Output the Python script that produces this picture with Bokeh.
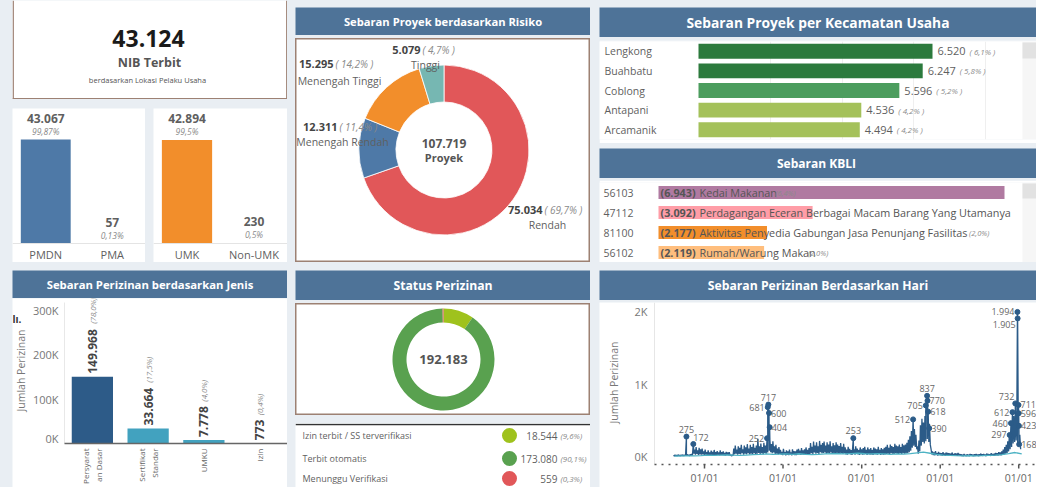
import math
import pandas as pd
from bokeh.plotting import figure
from bokeh.layouts import row, column
from bokeh.models import Range1d, FactorRange, FixedTicker, Grid, Spacer, Span, ColumnDataSource
from bokeh.core.properties import value
from bokeh.embed import file_html
from bokeh.resources import INLINE

# ------------------------------------------------------------------ data
nib_total = 43124
pm_cats = ["PMDN", "PMA"]
pm_vals = [43067, 57]
umk_cats = ["UMK", "Non-UMK"]
umk_vals = [42894, 230]

risk_cats = ["Rendah", "Menengah Rendah", "Menengah Tinggi", "Tinggi"]
risk_vals = [75034, 12311, 15295, 5079]

kec_cats = ["Lengkong", "Buahbatu", "Coblong", "Antapani", "Arcamanik"]
kec_vals = [6520, 6247, 5596, 4536, 4494]
proyek_total = 107719

kbli_codes = ["56103", "47112", "81100", "56102"]
kbli_names = ["Kedai Makanan",
              "Perdagangan Eceran Berbagai Macam Barang Yang Utamanya Makanan, Minuman Atau Tembakau",
              "Aktivitas Penyedia Gabungan Jasa Penunjang Fasilitas",
              "Rumah/Warung Makan"]
kbli_vals = [6943, 3092, 2177, 2119]

jenis_cats = ["Persyaratan Dasar", "Sertifikat Standar", "UMKU", "Izin"]
jenis_tick_lines = [["Persyarat", "an Dasar"], ["Sertifikat", "Standar"], ["UMKU"], ["Izin"]]
jenis_vals = [149968, 33664, 7778, 773]
jenis_ticks = [0, 100000, 200000, 300000]

status_cats = ["Izin terbit / SS terverifikasi", "Terbit otomatis", "Menunggu Verifikasi"]
status_vals = [18544, 173080, 559]

hari_start = "2018-08-10"   # weekly readings (weekday level / weekend low)
hari_high = [
    18, 22, 20, 25, 18, 22, 24, 20,
    25, 30, 22, 28, 35,
    140, 95, 130, 85, 120, 100, 110,
    70, 95, 60, 85, 55, 80, 65, 90, 60, 75, 55, 85, 60, 70, 50, 65, 55, 60,
    20, 25,
    110, 150, 95, 140, 120, 160, 100, 150, 125, 170, 110, 160, 130, 175, 120, 150, 245, 140, 180, 130, 190, 150, 200,
    260,
    230, 170, 210, 140, 160, 110, 130,
    90, 65, 105, 60, 85, 70, 95, 55, 100, 75, 70, 95, 105, 80, 115, 85, 100, 125, 90, 115,
    185, 135, 205, 150, 195, 140, 215, 160, 185, 205, 150, 195, 165, 210, 140, 185, 155, 195, 165, 145, 185, 135, 175,
    125, 95, 135, 105, 90, 130, 100, 140, 110, 90, 125, 100, 115, 135, 90, 125, 100, 115, 90, 125, 110, 100, 135, 90, 115, 100, 120,
    135, 160, 120, 165, 145, 130, 175, 150, 140, 165, 130, 175, 155, 165, 190, 230, 280,
    350, 420, 380, 300, 140, 220,
    430, 520, 470, 560, 600, 520, 450,
    110, 70, 55, 75, 45, 65, 50, 45, 60, 40, 55, 50, 45, 40, 55, 35, 45, 40, 50, 35,
    30, 25, 35, 20, 30, 25, 35, 30, 25, 30, 35, 25, 30, 40, 30, 35, 25, 40, 35, 30, 45, 35, 40, 50, 45, 60, 55, 70,
    95, 130, 160, 210,
    280, 380, 520, 560, 620, 480, 450, 300,
]
hari_low = [
    5, 8, 6, 10, 7, 9, 8, 10,
    10, 12, 8, 12, 15,
    40, 25, 35, 20, 30, 25, 30,
    20, 25, 15, 20, 18, 22, 15, 20, 18, 22, 15, 20, 18, 15, 12, 18, 15, 12,
    8, 10,
    30, 40, 25, 35, 30, 45, 25, 40, 30, 45, 30, 40, 35, 45, 30, 40, 50, 35, 45, 30, 50, 40, 55,
    80,
    60, 45, 55, 35, 40, 30, 35,
    25, 18, 30, 15, 22, 18, 25, 15, 28, 20, 18, 25, 30, 22, 30, 25, 28, 35, 25, 30,
    45, 35, 55, 40, 50, 35, 60, 45, 50, 55, 40, 50, 45, 55, 35, 50, 40, 50, 45, 40, 50, 35, 45,
    30, 25, 35, 28, 22, 35, 25, 38, 28, 22, 32, 25, 30, 35, 22, 32, 25, 30, 22, 32, 28, 25, 35, 22, 30, 25, 30,
    35, 40, 30, 45, 38, 35, 45, 40, 35, 45, 35, 45, 40, 45, 50, 60, 80,
    120, 150, 130, 100, 40, 70,
    150, 200, 180, 210, 240, 200, 160,
    30, 20, 15, 22, 12, 18, 15, 12, 18, 10, 15, 14, 12, 10, 15, 9, 12, 10, 14, 9,
    8, 6, 10, 5, 8, 6, 10, 8, 6, 8, 10, 6, 8, 12, 8, 10, 6, 12, 10, 8, 14, 10, 12, 15, 13, 18, 16, 22,
    30, 40, 50, 70,
    100, 130, 180, 200, 220, 160, 150, 100,
]
peak_dates = ["2018-10-09", "2018-11-10", "2019-10-19", "2019-10-22", "2019-10-25", "2019-10-28",
              "2019-10-31", "2020-11-23", "2021-08-28", "2021-10-26", "2021-11-01", "2021-11-03",
              "2021-11-06", "2021-11-11", "2022-11-20", "2022-11-26", "2022-12-03", "2022-12-16",
              "2022-12-26", "2022-12-27", "2022-12-31", "2023-01-01", "2023-01-02", "2023-01-03"]
peak_vals = [275, 172, 252, 681, 717, 600, 404, 253, 512, 705, 837, 770, 618, 390,
             297, 460, 612, 732, 1994, 1905, 711, 596, 423, 168]
teal_start = "2018-08-01"   # monthly readings of the second measure
teal_monthly = [5, 8, 10, 10, 12,
                18, 15, 20, 22, 18, 15, 20, 25, 28, 35, 30, 32,
                35, 30, 38, 28, 25, 30, 35, 40, 38, 35, 40, 45,
                38, 35, 40, 35, 30, 35, 32, 40, 50, 60, 45, 30,
                20, 15, 12, 10, 12, 10, 12, 15, 18, 25, 40, 55,
                35]
hari_year_ticks = ["2019-01-01", "2020-01-01", "2021-01-01", "2022-01-01", "2023-01-01"]
hari_ticks = [0, 1000, 2000]

# ------------------------------------------------------------------ style
FONT = "Open Sans"
BG = "#e9eef3"
HEAD = "#4e7398"
BORDER = "#9d8173"
DARK = "#444444"
MID = "#5f5f5f"
LIGHT = "#8a8a8a"
AXC = "#777777"
NAVY = "#2b5b88"
TEAL = "#4db3c4"
CW = 437   # width of the right-hand column


def fnum(v):
    return f"{v:,}".replace(",", ".")


def fpct(v, tot, nd=1):
    return f"{100 * v / tot:.{nd}f}".replace(".", ",") + "%"


def tw(s, size, bold=False):
    w = 0.0
    for ch in s:
        if ch.isdigit():
            w += 0.572
        elif ch in ".,":
            w += 0.26
        elif ch in "()":
            w += 0.30
        elif ch == " ":
            w += 0.26
        elif ch == "%":
            w += 0.82
        elif ch == "/":
            w += 0.37
        elif ch.isupper():
            w += 0.64
        elif ch in "ilj":
            w += 0.24
        elif ch in "mw":
            w += 0.84
        elif ch in "frt":
            w += 0.34
        else:
            w += 0.54
    return w * size * (1.06 if bold else 1.0)


def fit_words(s, avail, size):
    out = ""
    for w in s.split():
        cand = (out + " " + w).strip()
        if tw(cand, size) > avail:
            break
        out = cand
    return out


def fig(w, h, xr, yr, bg="white", **kw):
    opts = dict(width=w, height=h, x_range=xr, y_range=yr, output_backend="svg",
                toolbar_location=None, x_axis_location=None, y_axis_location=None,
                min_border=0, background_fill_color=bg, border_fill_color=bg,
                outline_line_color=None)
    opts.update(kw)
    p = figure(**opts)
    p.grid.visible = False
    return p


def T(p, x, y, t, size, color=DARK, style="normal", align="center", baseline="middle", **kw):
    p.text(x=list(x), y=list(y), text=list(t), text_font=value(FONT),
           text_font_size=f"{size}px", text_color=color, text_font_style=style,
           text_align=align, text_baseline=baseline, **kw)


def title_fig(w, h, s, size):
    p = fig(w, h, Range1d(0, 1), Range1d(0, 1), bg=HEAD)
    T(p, [0.5], [0.5], [s], size, color="white", style="bold")
    return p


# ------------------------------------------------------------------ NIB box
NH = 99
nib = fig(275, NH, Range1d(0, 275), Range1d(0, NH))
nib.segment(x0=[0.7, 274.3, 0], y0=[0, 0, 0.7], x1=[0.7, 274.3, 275], y1=[NH, NH, 0.7],
            line_color=BORDER, line_width=1.4)
T(nib, [136], [NH - 38], [fnum(nib_total)], 23, color="#1a1a1a", style="bold")
T(nib, [137], [NH - 62], ["NIB Terbit"], 12.5, color="#555555", style="bold")
T(nib, [135], [NH - 79], ["berdasarkan Lokasi Pelaku Usaha"], 7.5, color="#555555")

# ------------------------------------------------------------------ share bars
PM_UNITS_PER_PX = 414.1


def share_fig(w, cats, vals, colors, nd):
    tot = sum(vals)
    p = fig(w, 154, FactorRange(factors=cats, range_padding=0),
            Range1d(-19 * PM_UNITS_PER_PX, 135 * PM_UNITS_PER_PX))
    p.add_layout(Span(location=0, dimension="width", line_color="#e4e4e4", line_width=1))
    p.vbar(x=cats, top=vals, bottom=0, width=0.75, fill_color=colors, line_color=None)
    T(p, cats, vals, [fnum(v) for v in vals], 12, color=MID, style="bold", y_offset=-21)
    T(p, cats, vals, [fpct(v, tot, nd) for v in vals], 8.5, color=LIGHT, style="italic", y_offset=-8)
    T(p, cats, [0] * len(cats), cats, 11, color=MID, y_offset=11)
    return p


pmf = share_fig(133, pm_cats, pm_vals, ["#4e79a7", "#4e79a7"], 2)
umkf = share_fig(134, umk_cats, umk_vals, ["#f28e2b", "#4e79a7"], 1)

# ------------------------------------------------------------------ Jenis
JEN_PX = 0.000445   # px per unit
BAND = 55.75        # px per category
jen = fig(275, 189, Range1d(-0.5 - 52 / BAND, len(jenis_cats) - 0.5),
          Range1d(-(487 - 443) / JEN_PX, (443 - 298) / JEN_PX))
T(jen, [-0.5] * len(jenis_ticks), jenis_ticks, [f"{t // 1000}K" for t in jenis_ticks], 11,
  color=AXC, align="right", x_offset=-6, y_offset=[-5 if t == 0 else 0 for t in jenis_ticks])
T(jen, [-0.5], [(443 - 370) / JEN_PX], ["Jumlah Perizinan"], 10.5, color=AXC,
  angle=math.pi / 2, x_offset=-44)
T(jen, [-0.5], [(443 - 318) / JEN_PX], ["lı."], 10, color="#333333", style="bold",
  align="left", x_offset=-52)
jx = list(range(len(jenis_cats)))
jen.segment(x0=[-0.5], y0=[0], x1=[-0.5], y1=[(443 - 302) / JEN_PX], line_color="#e8e8e8", line_width=1)
jen.vbar(x=jx, top=jenis_vals, bottom=0, width=0.74,
         fill_color=["#2d5b88", "#42a2bf", "#42a2bf", "#42a2bf"], line_color=None)
jen.segment(x0=[-0.5], y0=[0], x1=[len(jenis_cats) - 0.5], y1=[0], line_color="#666666", line_width=1.5)
jtot = sum(jenis_vals)
jlab = [fnum(v) for v in jenis_vals]
T(jen, jx, jenis_vals, jlab, 12, color=DARK, style="bold", align="left",
  angle=math.pi / 2, y_offset=-3)
T(jen, jx, jenis_vals, [f"({fpct(v, jtot)})" for v in jenis_vals], 8, color=LIGHT,
  style="italic", align="left", angle=math.pi / 2,
  y_offset=[-(3 + tw(s, 12, True) + 3) for s in jlab])
for i, lines in enumerate(jenis_tick_lines):
    n = len(lines)
    for k, ln in enumerate(lines):
        T(jen, [i], [0], [ln], 8, color="#666666", align="right", angle=math.pi / 2,
          y_offset=5, x_offset=(k - (n - 1) / 2) * 13)

# ------------------------------------------------------------------ Risk donut
RH = 224
risk = fig(295, RH, Range1d(0, 295), Range1d(0, RH), outline_line_color=BORDER, outline_line_width=2)
rtot = sum(risk_vals)
cum = 0.0
starts, ends = [], []
for v in risk_vals:
    starts.append(math.pi / 2 - 2 * math.pi * cum / rtot)
    cum += v
    ends.append(math.pi / 2 - 2 * math.pi * cum / rtot)
rsrc = ColumnDataSource(dict(s=starts, e=ends, c=["#e15759", "#4e79a7", "#f28e2b", "#76b7b2"]))
risk.annular_wedge(x=148.5, y=RH - 111.5, inner_radius=48, outer_radius=85,
                   inner_radius_units="screen", outer_radius_units="screen",
                   start_angle="s", end_angle="e", direction="clock",
                   fill_color="c", line_color="white", line_width=0.8, source=rsrc)
risk_anchor = [(247, 171, 252, 186), (42, 88, 47, 103), (38, 25, 44, 42), (125, 11, 130, 26)]
for (vx, vy, nx, ny), name, v in zip(risk_anchor, risk_cats, risk_vals):
    T(risk, [vx], [RH - vy], [fnum(v)], 11, color=DARK, style="bold", align="right")
    T(risk, [vx + 2], [RH - vy], [f"( {fpct(v, rtot)} )"], 10, color=LIGHT, style="italic", align="left")
    T(risk, [nx], [RH - ny], [name], 10.5, color=MID)
T(risk, [148.5], [RH - 105], [fnum(rtot)], 12, color="#555555", style="bold")
T(risk, [148.5], [RH - 119], ["Proyek"], 11, color="#555555", style="bold")

# ------------------------------------------------------------------ Status donut
SH = 112
st = fig(295, SH, Range1d(0, 295), Range1d(0, SH), outline_line_color=BORDER, outline_line_width=2)
stot = sum(status_vals)
status_colors = ["#9fc21d", "#59a14f", "#e15759"]
cum = 0.0
s2, e2 = [], []
for v in status_vals:
    s2.append(math.pi / 2 - 2 * math.pi * cum / stot)
    cum += v
    e2.append(math.pi / 2 - 2 * math.pi * cum / stot)
ssrc = ColumnDataSource(dict(s=s2, e=e2, c=status_colors))
st.annular_wedge(x=148, y=SH - 56, inner_radius=37, outer_radius=51,
                 inner_radius_units="screen", outer_radius_units="screen",
                 start_angle="s", end_angle="e", direction="clock",
                 fill_color="c", line_color=None, source=ssrc)
T(st, [148], [SH - 56], [fnum(stot)], 13, color="#555555", style="bold")

LH = 64
lg = fig(295, LH, Range1d(0, 295), Range1d(0, LH))
lg.segment(x0=[0], y0=[LH - 1], x1=[295], y1=[LH - 1], line_color="#333333", line_width=1.5)
ry = [LH - 12, LH - 35, LH - 55]
T(lg, [7] * 3, ry, status_cats, 9, color=MID, align="left")
lg.scatter(x=[214] * 3, y=ry, size=15, fill_color=status_colors, line_color=None)
T(lg, [262] * 3, ry, [fnum(v) for v in status_vals], 10, color=MID, align="right")
T(lg, [265] * 3, ry, [f"({fpct(v, stot)})" for v in status_vals], 8, color=LIGHT,
  style="italic", align="left")

# ------------------------------------------------------------------ Kecamatan
KEC_PX = 234 / 6520
kx0, kx1 = -99 / KEC_PX, (CW - 99) / KEC_PX
kec = fig(CW, 103, Range1d(kx0, kx1), FactorRange(factors=kec_cats[::-1], range_padding=0),
          min_border_top=1, min_border_bottom=4)
kec.add_layout(Grid(dimension=0, ticker=FixedTicker(ticks=[2000, 4000, 6000, 8000]),
                    grid_line_color="#efefef"))
kec.hbar(y=kec_cats, right=kec_vals, left=0, height=0.76,
         fill_color=["#2c7a3d", "#2c7a3d", "#4c9d5e", "#a4c15a", "#a4c15a"], line_color=None)
T(kec, [kx0] * 5, kec_cats, kec_cats, 10.5, color=MID, align="left", x_offset=5)
klab = [fnum(v) for v in kec_vals]
T(kec, kec_vals, kec_cats, klab, 11, color=MID, align="left", x_offset=5)
T(kec, kec_vals, kec_cats, [f"( {fpct(v, proyek_total)} )" for v in kec_vals], 8, color=LIGHT,
  style="italic", align="left", x_offset=[5 + tw(s, 11) + 4 for s in klab])
ksb = (1022 - 698) / KEC_PX
kec.quad(left=[ksb], right=[kx1], bottom=[0], top=[len(kec_cats)], fill_color="#f6f6f6", line_color=None)
kec.quad(left=[ksb], right=[kx1], bottom=[len(kec_cats) - 17 / 19.6], top=[len(kec_cats) - 1 / 19.6],
         fill_color="#e2e2e2", line_color=None)

# ------------------------------------------------------------------ KBLI
KB_PX = 346 / 6943
KFS = 10.8
bx0, bx1 = -59 / KB_PX, (CW - 59) / KB_PX
kb = fig(CW, 82, Range1d(bx0, bx1), FactorRange(factors=kbli_codes[::-1], range_padding=0),
         min_border_top=2)
kb.hbar(y=kbli_codes, right=kbli_vals, left=0, height=0.66,
        fill_color=["#b07aa1", "#ff9da7", "#f28e2b", "#ffbe7d"], line_color=None)
T(kb, [bx0] * 4, kbli_codes, kbli_codes, 10.5, color=MID, align="left", x_offset=4)
blab = [f"({fnum(v)})" for v in kbli_vals]
T(kb, [0] * 4, kbli_codes, blab, KFS, color="#555555", style="bold", align="left", x_offset=2)
avail = 1020 - 658
noff = [2 + tw(s, KFS, True) + 3 for s in blab]
shown = [fit_words(n, avail - o, KFS) for n, o in zip(kbli_names, noff)]
T(kb, [0] * 4, kbli_codes, shown, KFS, color="#555555", align="left", x_offset=noff)
pl, pc, po = [], [], []
for c, v, o, s in zip(kbli_codes, kbli_vals, noff, shown):
    ptxt = f"({fpct(v, proyek_total)})"
    off = o + tw(s, KFS) + 4
    if s and off + tw(ptxt, 7.5) <= avail:
        pl.append(ptxt)
        pc.append(c)
        po.append(off)
if pl:
    T(kb, [0] * len(pl), pc, pl, 7.5, color=LIGHT, style="italic", align="left", x_offset=po)
bsb = (1022 - 658) / KB_PX
kb.quad(left=[bsb], right=[bx1], bottom=[0], top=[len(kbli_codes)], fill_color="#f6f6f6", line_color=None)
kb.quad(left=[bsb], right=[bx1], bottom=[len(kbli_codes) - 16 / 20], top=[len(kbli_codes) - 1 / 20],
        fill_color="#e2e2e2", line_color=None)

# ------------------------------------------------------------------ Hari
t0 = pd.Timestamp(hari_start)
hd = [t0 + pd.Timedelta(days=7 * i) for i in range(len(hari_high))]
ld = [t0 + pd.Timedelta(days=7 * i + 4) for i in range(len(hari_low))]
pdts = list(pd.to_datetime(peak_dates))
df = pd.DataFrame({"d": hd + ld + pdts, "v": hari_high + hari_low + peak_vals}).sort_values("d")
teal_d = pd.date_range(teal_start, periods=len(teal_monthly), freq="MS") + pd.Timedelta(days=14)

PXD = 78.5 / 365.0                    # px per day
ANCH = pd.Timestamp(hari_year_ticks[0])
ANCH_PX = 704                         # page x of the first year tick
PXV = 0.0725                          # px per unit
Y0_PX = 456                           # page y of value 0


def dshift(px):
    return ANCH + pd.Timedelta(days=(px - ANCH_PX) / PXD)


ax_x = dshift(654)
ax_y = -(464 - Y0_PX) / PXV
tick_y = -(468 - Y0_PX) / PXV
hari = fig(CW, 185, Range1d(dshift(599), dshift(599 + CW)),
           Range1d(-(487 - Y0_PX) / PXV, (Y0_PX - 302) / PXV), x_axis_type="datetime")
hari.segment(x0=[ax_x], y0=[ax_y], x1=[ax_x], y1=[(Y0_PX - 302) / PXV], line_color="#e6e6e6", line_width=1)
T(hari, [ax_x] * len(hari_ticks), hari_ticks, [f"{t // 1000}K" for t in hari_ticks], 11,
  color=AXC, align="right", x_offset=-7)
T(hari, [ax_x], [(Y0_PX - 382) / PXV], ["Jumlah Perizinan"], 10.5, color=AXC,
  angle=math.pi / 2, x_offset=-41)
yt = list(pd.to_datetime(hari_year_ticks))
hari.segment(x0=[ax_x], y0=[ax_y], x1=[dshift(599 + CW)], y1=[ax_y], line_color="#555555",
             line_width=1.5, line_dash="2 5")
hari.segment(x0=yt, y0=[ax_y] * len(yt), x1=yt, y1=[tick_y] * len(yt), line_color="#555555",
             line_width=1.5)
T(hari, yt, [ax_y] * len(yt), [d.strftime("%d/%m") for d in yt], 10.5, color="#666666",
  baseline="top", y_offset=6)

hari.line(x=df["d"], y=df["v"], line_color=NAVY, line_width=1.3)
hari.line(x=teal_d, y=teal_monthly, line_color=TEAL, line_width=1.3)
hari.scatter(x=pdts, y=peak_vals, size=5, fill_color=NAVY, line_color=NAVY)
peak_side = ["above", "aboveright", "left", "left", "above", "right", "right", "above",
             "left", "left", "above", "right", "right", "right", "left", "left", "left",
             "aboveleft", "left", "belowleft", "right", "right", "right", "right"]
side_style = {
    "above": dict(align="center", baseline="bottom", x_offset=0, y_offset=-4),
    "aboveright": dict(align="left", baseline="bottom", x_offset=0, y_offset=-3),
    "aboveleft": dict(align="right", baseline="bottom", x_offset=-1, y_offset=-3),
    "left": dict(align="right", baseline="middle", x_offset=-3, y_offset=0),
    "right": dict(align="left", baseline="middle", x_offset=2, y_offset=0),
    "belowleft": dict(align="right", baseline="top", x_offset=-2, y_offset=3),
}
for side, sty in side_style.items():
    idx = [i for i, s in enumerate(peak_side) if s == side]
    if not idx:
        continue
    T(hari, [pdts[i] for i in idx], [peak_vals[i] for i in idx],
      [fnum(peak_vals[i]) for i in idx], 9, color="#666666", **sty)

# ------------------------------------------------------------------ layout
colA = column(nib, Spacer(width=275, height=9),
              row(pmf, Spacer(width=8, height=154), umkf),
              Spacer(width=275, height=8),
              title_fig(275, 28, "Sebaran Perizinan berdasarkan Jenis", 11.3), jen)
colB = column(Spacer(width=295, height=7),
              title_fig(295, 28, "Sebaran Proyek berdasarkan Risiko", 11.2),
              Spacer(width=295, height=3), risk, Spacer(width=295, height=8),
              title_fig(295, 30, "Status Perizinan", 12.2), Spacer(width=295, height=3),
              st, Spacer(width=295, height=8), lg)
colC = column(Spacer(width=CW, height=7),
              title_fig(CW, 30, "Sebaran Proyek per Kecamatan Usaha", 13.8),
              Spacer(width=CW, height=3), kec, Spacer(width=CW, height=5),
              title_fig(CW, 30, "Sebaran  KBLI", 12), Spacer(width=CW, height=2), kb,
              Spacer(width=CW, height=8),
              title_fig(CW, 30, "Sebaran Perizinan Berdasarkan Hari", 12.2),
              Spacer(width=CW, height=2), hari)
root = row(Spacer(width=12, height=487), colA, Spacer(width=8, height=487), colB,
           Spacer(width=9, height=487), colC, styles={"background-color": BG})

open("out.html", "w").write(file_html(root, INLINE))
